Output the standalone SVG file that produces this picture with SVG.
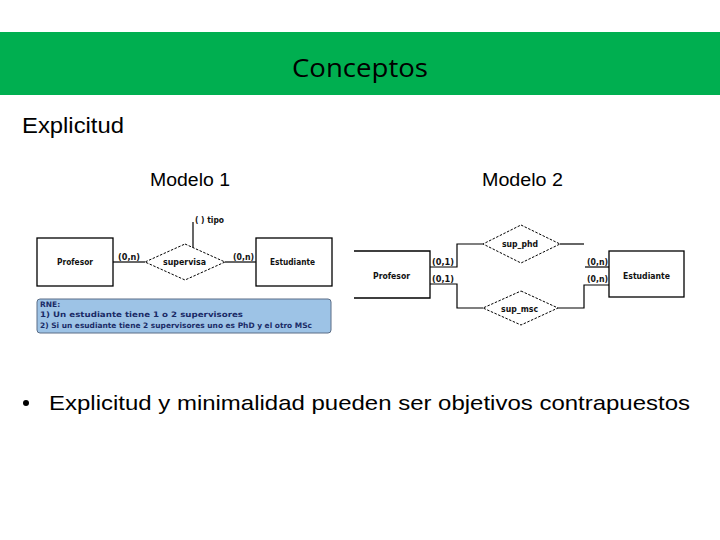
<svg xmlns="http://www.w3.org/2000/svg" width="720" height="540" viewBox="0 0 720 540">
<style>
.box{fill:#fff;stroke:#000;stroke-width:1.3}
.dia{fill:#fff;stroke:#000;stroke-width:1;stroke-dasharray:2.5 1.5}
.ln{fill:none;stroke:#000;stroke-width:1.2}
.er{font-family:"DejaVu Sans",sans-serif;font-weight:bold;font-size:8px;fill:#111}
.card{font-family:"DejaVu Sans",sans-serif;font-weight:bold;font-size:8px;fill:#111}
.big{font-family:"Liberation Sans",Arial,sans-serif;fill:#000}
.rne{font-family:"DejaVu Sans",sans-serif;font-weight:bold;font-size:7.5px;fill:#1a2b66}
</style>
<rect width="720" height="540" fill="#fff"/>
<g id="header">
<rect x="0" y="32" width="720" height="63" fill="#00AF50"/>
<text x="360" y="77" text-anchor="middle" font-family="'Open Sans',sans-serif" font-size="25" textLength="136" lengthAdjust="spacingAndGlyphs" fill="#000">Conceptos</text>
</g>
<text class="big" x="22" y="133" font-size="22" textLength="102" lengthAdjust="spacingAndGlyphs">Explicitud</text>
<text class="big" x="150" y="186" font-size="18" textLength="80" lengthAdjust="spacingAndGlyphs">Modelo 1</text>
<text class="big" x="482" y="186" font-size="18" textLength="81" lengthAdjust="spacingAndGlyphs">Modelo 2</text>

<g id="connectors">
<line class="ln" x1="113" y1="262" x2="145" y2="262"/>
<line class="ln" x1="225" y1="262" x2="256" y2="262"/>
<line class="ln" x1="193" y1="222" x2="193" y2="248"/>
<polyline class="ln" points="430,267 457,267 457,244 483,244"/>
<line class="ln" x1="560" y1="244" x2="584" y2="244"/>
<line class="ln" x1="585" y1="267" x2="609" y2="267"/>
<polyline class="ln" points="430,284 457,284 457,308 483,308"/>
<polyline class="ln" points="558,308 584,308 584,285 609,285"/>
</g>

<g id="m1-profesor">
<rect class="box" x="37" y="238" width="76" height="48"/>
<text class="er" x="57" y="265" textLength="36" lengthAdjust="spacingAndGlyphs">Profesor</text>
</g>
<g id="m1-estudiante">
<rect class="box" x="256" y="238" width="76" height="48"/>
<text class="er" x="270" y="265" textLength="45" lengthAdjust="spacingAndGlyphs">Estudiante</text>
</g>
<g id="m1-supervisa">
<polygon class="dia" points="185,244 225,262 185,280 145,262"/>
<text class="er" x="163" y="265" textLength="43" lengthAdjust="spacingAndGlyphs">supervisa</text>
</g>
<g id="m1-tipo">
<text class="er" x="195" y="223" font-weight="normal" textLength="29" lengthAdjust="spacingAndGlyphs">( ) tipo</text>
</g>
<text class="card" x="118" y="260" textLength="22" lengthAdjust="spacingAndGlyphs">(0,n)</text>
<text class="card" x="233" y="260" textLength="21" lengthAdjust="spacingAndGlyphs">(0,n)</text>

<g id="m1-rne">
<rect x="37" y="299" width="294" height="34" rx="3" fill="#9DC3E6" stroke="#5b6d86" stroke-width="1"/>
<text class="rne" x="40" y="307">RNE:</text>
<text class="rne" x="40" y="317" textLength="203" lengthAdjust="spacingAndGlyphs">1) Un estudiante tiene 1 o 2 supervisores</text>
<text class="rne" x="40" y="328" textLength="272" lengthAdjust="spacingAndGlyphs">2) Si un esudiante tiene 2 supervisores uno es PhD y el otro MSc</text>
</g>

<g id="m2-profesor">
<path class="box" d="M354,251 H430 V298 H354" fill="#fff"/>
<text class="er" x="373" y="279" textLength="37" lengthAdjust="spacingAndGlyphs">Profesor</text>
</g>
<g id="m2-estudiante">
<rect class="box" x="609" y="251" width="75" height="46"/>
<text class="er" x="623" y="279" textLength="47" lengthAdjust="spacingAndGlyphs">Estudiante</text>
</g>
<g id="m2-sup-phd">
<polygon class="dia" points="521,225 560,244 521,263 483,244"/>
<text class="er" x="502" y="247" textLength="36" lengthAdjust="spacingAndGlyphs">sup_phd</text>
</g>
<g id="m2-sup-msc">
<polygon class="dia" points="521,291 558,308 521,325 483,308"/>
<text class="er" x="501" y="312" textLength="37" lengthAdjust="spacingAndGlyphs">sup_msc</text>
</g>
<text class="card" x="432" y="265" textLength="22" lengthAdjust="spacingAndGlyphs">(0,1)</text>
<text class="card" x="432" y="282" textLength="22" lengthAdjust="spacingAndGlyphs">(0,1)</text>
<text class="card" x="587" y="265" textLength="21" lengthAdjust="spacingAndGlyphs">(0,n)</text>
<text class="card" x="587" y="282" textLength="21" lengthAdjust="spacingAndGlyphs">(0,n)</text>

<g id="bullet">
<circle cx="26" cy="403" r="3" fill="#000"/>
<text class="big" x="49" y="410" font-size="21" textLength="641" lengthAdjust="spacingAndGlyphs">Explicitud y minimalidad pueden ser objetivos contrapuestos</text>
</g>
</svg>
